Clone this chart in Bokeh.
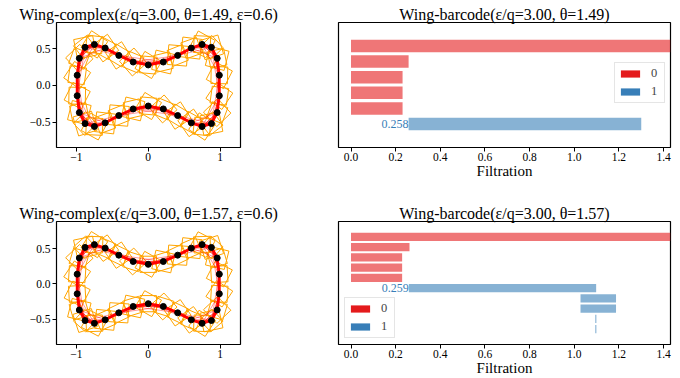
import math
import numpy as np
from bokeh.plotting import figure
from bokeh.layouts import column, row
from bokeh.models import Range1d, FixedTicker, PrintfTickFormatter, Legend, LegendItem
from bokeh.embed import file_html
from bokeh.resources import INLINE
from bokeh.core.properties import value

FONT = "Liberation Serif"

# ---------------- data ----------------
# upper branch of the wing curve (lower branch is its mirror image)
wing_x = [-0.99, -0.96, -0.88, -0.75, -0.60, -0.41, -0.21, 0.00, 0.21, 0.41, 0.60, 0.75, 0.88, 0.96, 0.99]
wing_y_upper = [0.14, 0.37, 0.52, 0.56, 0.51, 0.41, 0.32, 0.28, 0.32, 0.41, 0.51, 0.56, 0.52, 0.37, 0.14]

complex_titles = ["Wing-complex(ε/q=3.00, θ=1.49, ε=0.6)",
                  "Wing-complex(ε/q=3.00, θ=1.57, ε=0.6)"]
complex_theta = [1.49, 1.57]
complex_x_ticks = [-1, 0, 1]
complex_x_labels = ["−1", "0", "1"]
complex_y_ticks = [-0.5, 0.0, 0.5]
complex_y_labels = ["−0.5", "0.0", "0.5"]

barcode_titles = ["Wing-barcode(ε/q=3.00, θ=1.49)",
                  "Wing-barcode(ε/q=3.00, θ=1.57)"]
bar_ticks = [0.0, 0.2, 0.4, 0.6, 0.8, 1.0, 1.2, 1.4]

top_h0_birth = [0.0, 0.0, 0.0, 0.0, 0.0]
top_h0_death = [np.inf, 0.258, 0.231, 0.231, 0.231]
top_h1_birth = [0.258]
top_h1_death = [1.300]

bot_h0_birth = [0.0, 0.0, 0.0, 0.0, 0.0]
bot_h0_death = [np.inf, 0.262, 0.229, 0.229, 0.229]
bot_h1_birth = [0.259, 1.028, 1.028, 1.094, 1.094]
bot_h1_death = [1.098, 1.187, 1.187, 1.099, 1.099]

RED = "#e41a1c"
BLUE = "#377eb8"

# ---------------- layout constants (page has no body margin) ----------------
LEFT_W, RIGHT_W = 300, 380
TOP_H, BOT_H = 199, 179
TOP_MB_TOP, TOP_MB_BOT = 22, 52
BOT_MB_TOP, BOT_MB_BOT = 22, 31


def base_style(p, title):
    p.title.text = title
    p.title.align = "center"
    p.title.text_font = FONT
    p.title.text_font_size = "16px"
    p.title.text_font_style = "normal"
    p.title.text_color = "black"
    p.title.standoff = 0
    p.title.offset = 0
    p.background_fill_color = "white"
    p.border_fill_color = "white"
    p.outline_line_color = "black"
    p.outline_line_width = 1.2
    p.xgrid.visible = False
    p.ygrid.visible = False
    p.axis.axis_line_color = None
    p.axis.minor_tick_line_color = None
    p.axis.major_tick_out = 4
    p.axis.major_tick_in = 0
    p.axis.major_tick_line_color = "black"
    p.axis.major_label_standoff = 0
    p.axis.major_label_text_font = FONT
    p.axis.major_label_text_font_size = "11.5px"
    p.axis.major_label_text_color = "black"


def square(cx, cy, s, a):
    h = s / 2.0
    pts = [(-h, -h), (h, -h), (h, h), (-h, h)]
    ca, sa = math.cos(a), math.sin(a)
    xs = [cx + px * ca - py * sa for px, py in pts]
    ys = [cy + px * sa + py * ca for px, py in pts]
    return xs, ys


def make_complex(title, theta, height, mb_top, mb_bot, yr):
    p = figure(width=LEFT_W, height=height, x_range=Range1d(-1.278, 1.285), y_range=Range1d(*yr),
               output_backend="svg", toolbar_location=None,
               min_border_left=56, min_border_right=60, min_border_top=mb_top, min_border_bottom=mb_bot)
    base_style(p, title)
    p.xaxis.ticker = FixedTicker(ticks=complex_x_ticks)
    p.xaxis.major_label_overrides = dict(zip(complex_x_ticks, complex_x_labels))
    p.yaxis.ticker = FixedTicker(ticks=complex_y_ticks)
    p.yaxis.major_label_overrides = dict(zip(complex_y_ticks, complex_y_labels))
    p.yaxis.major_label_standoff = 2
    p.xaxis.major_label_standoff = 1

    lx = wing_x + wing_x[::-1]
    ly = wing_y_upper + [-v for v in wing_y_upper[::-1]]
    n = len(lx)

    # orange squares around each vertex
    sxs, sys_ = [], []
    for i in range(n):
        dx = lx[(i + 1) % n] - lx[i - 1]
        dy = ly[(i + 1) % n] - ly[i - 1]
        a = math.atan2(dy, dx)
        for s, rot in ((0.23, theta), (0.27, math.pi / 4 + theta / 6)):
            xs, ys = square(lx[i], ly[i], s, a + rot)
            sxs.append(xs)
            sys_.append(ys)
    p.patches(sxs, sys_, fill_color=None, line_color="#ffa500", line_width=1)

    # red triangles and edges
    txs, tys = [], []
    for i in range(n):
        j, k = (i + 1) % n, (i + 2) % n
        txs.append([lx[i], lx[j], lx[k]])
        tys.append([ly[i], ly[j], ly[k]])
    p.patches(txs, tys, fill_color="red", fill_alpha=0.3, line_color="red", line_alpha=0.7, line_width=1.0)
    exs, eys = [], []
    for i in range(n):
        j = (i + 3) % n
        exs.append([lx[i], lx[j]])
        eys.append([ly[i], ly[j]])
    p.multi_line(exs, eys, line_color="red", line_alpha=0.5, line_width=0.8)
    p.line(lx + [lx[0]], ly + [ly[0]], line_color="red", line_width=2.8)
    p.scatter(lx, ly, size=6, fill_color="black", line_color="black")
    return p


def make_barcode(title, h0b, h0d, h1b, h1d, height, mb_top, mb_bot, legend_loc):
    x_end = 1.431
    n = len(h0b) + len(h1b)
    p = figure(width=RIGHT_W, height=height, x_range=Range1d(-0.056, x_end),
               y_range=Range1d(n - 0.5 + 1.0, -1.5),
               output_backend="svg", toolbar_location=None,
               min_border_left=38, min_border_right=10, min_border_top=mb_top, min_border_bottom=mb_bot)
    base_style(p, title)
    p.yaxis.visible = False
    p.xaxis.ticker = FixedTicker(ticks=bar_ticks)
    p.xaxis.formatter = PrintfTickFormatter(format="%.1f")
    p.xaxis.axis_label = "Filtration"
    p.xaxis.axis_label_text_font = FONT
    p.xaxis.axis_label_text_font_size = "15px"
    p.xaxis.axis_label_text_font_style = "normal"
    p.xaxis.axis_label_text_color = "black"
    p.xaxis.axis_label_standoff = -1
    p.xaxis.major_label_standoff = 1

    y0 = list(range(len(h0b)))
    right0 = [x_end if math.isinf(d) else d for d in h0d]
    p.hbar(y=y0, left=h0b, right=right0, height=0.8, fill_color=RED, fill_alpha=0.6, line_color=None)
    y1 = list(range(len(h0b), n))
    p.hbar(y=y1, left=h1b, right=h1d, height=0.8, fill_color=BLUE, fill_alpha=0.6, line_color=None)
    p.text(x=[h1b[0]], y=[y1[0]], text=["%.3f" % h1b[0]], text_align="right", text_baseline="middle",
           text_font=value(FONT), text_font_size="12px", text_color=BLUE)

    # legend-only renderers (NaN data, nothing drawn in the frame)
    r0 = p.hbar(y=[np.nan], left=[np.nan], right=[np.nan], height=0.8, fill_color=RED, line_color=None)
    r1 = p.hbar(y=[np.nan], left=[np.nan], right=[np.nan], height=0.8, fill_color=BLUE, line_color=None)
    leg = Legend(items=[LegendItem(label="0", renderers=[r0]), LegendItem(label="1", renderers=[r1])],
                 location=legend_loc, glyph_width=24, glyph_height=9, label_standoff=9,
                 label_width=10, label_height=14, spacing=3, padding=3, margin=0,
                 label_text_font=FONT, label_text_font_size="12.5px",
                 border_line_color="#cccccc", border_line_width=1,
                 background_fill_color="white", background_fill_alpha=0.8)
    p.add_layout(leg)
    return p


tl = make_complex(complex_titles[0], complex_theta[0], TOP_H, TOP_MB_TOP, TOP_MB_BOT, (-0.846, 0.859))
bl = make_complex(complex_titles[1], complex_theta[1], BOT_H, BOT_MB_TOP, BOT_MB_BOT, (-0.861, 0.889))
tr = make_barcode(barcode_titles[0], top_h0_birth, top_h0_death, top_h1_birth, top_h1_death,
                  TOP_H, TOP_MB_TOP, TOP_MB_BOT, (276, 44))
br = make_barcode(barcode_titles[1], bot_h0_birth, bot_h0_death, bot_h1_birth, bot_h1_death,
                  BOT_H, BOT_MB_TOP, BOT_MB_BOT, (6, 6))

layout = column(row(tl, tr), row(bl, br))
open("out.html", "w").write(file_html(layout, INLINE))
